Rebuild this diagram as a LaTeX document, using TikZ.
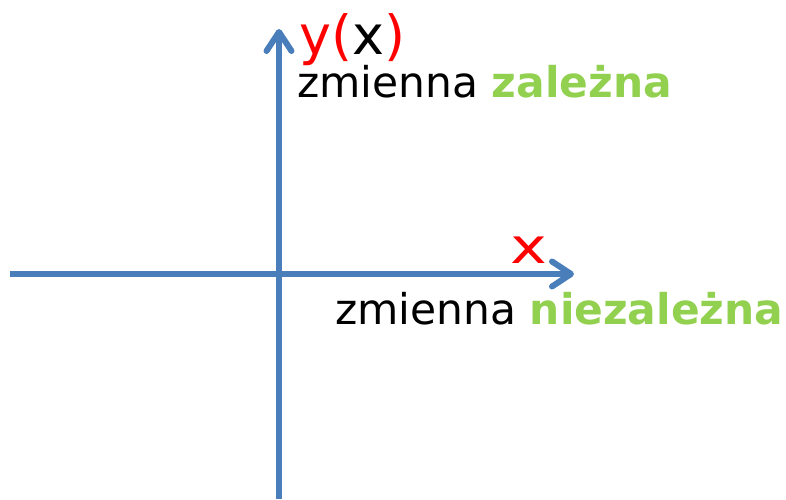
\documentclass[tikz,border=0pt]{standalone}
\usepackage{fontspec}
\setmainfont{DejaVu Sans}
\usepackage{tikz}
\usepackage{xcolor}
\usetikzlibrary{arrows.meta,positioning}
\definecolor{axisblue}{RGB}{74,126,187}
\definecolor{labelred}{RGB}{255,0,0}
\definecolor{labelgreen}{RGB}{146,208,80}
\begin{document}
\begin{tikzpicture}[
        x=1pt, y=1pt,
        axis/.style={line width=6pt, axisblue,
                     -{Straight Barb[length=19pt, width=25pt, round]}},
        lbl/.style={anchor=base west, inner sep=0pt,
                    font=\fontsize{42.4}{50}\selectfont},
        big/.style={anchor=base west, inner sep=0pt,
                    font=\fontsize{54}{62}\selectfont}
    ]
        \useasboundingbox (0,0) rectangle (786,499);

        \coordinate (xstart) at (10,225);
        \coordinate (xend)   at (574,225);
        \coordinate (ystart) at (279,0);
        \coordinate (yend)   at (279,470);

        \draw[axis] (xstart) -- (xend);
        \draw[axis] (ystart) -- (yend);

        \node[big] (ylab) at (299,444)
            {\textcolor{labelred}{y(}x\textcolor{labelred}{)}};
        \node[lbl] (dep) at (297,401)
            {zmienna \textcolor{labelgreen}{\textbf{zależna}}};
        \node[big, text=labelred] (xlab) at (510,236)
            {\scalebox{1.15}[0.9]{x}};
        \node[lbl] (indep) at (335,175)
            {zmienna \textcolor{labelgreen}{\textbf{niezależna}}};
    \end{tikzpicture}
\end{document}
